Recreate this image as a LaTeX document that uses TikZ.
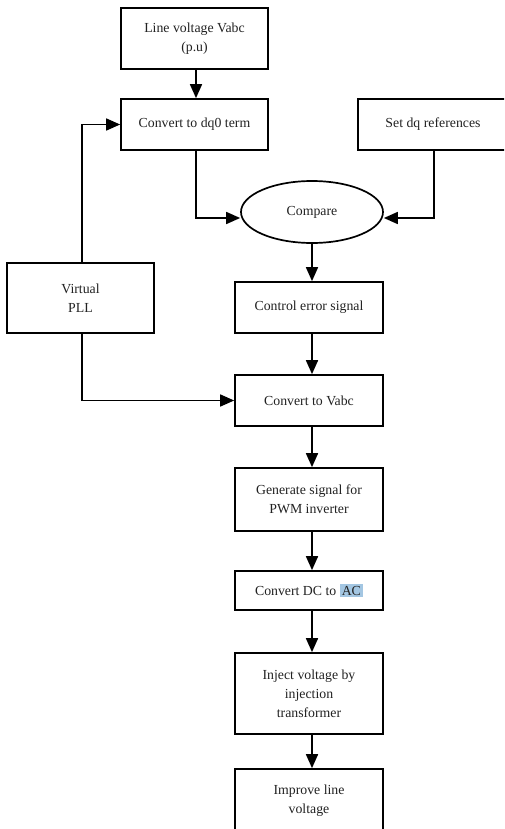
\documentclass[tikz,border=0pt]{standalone}
\usepackage{fontspec}
\setmainfont{Liberation Serif}
\usetikzlibrary{arrows.meta,shapes.geometric}
\definecolor{hl}{HTML}{A3C6E2}
\definecolor{txt}{HTML}{222222}
\begin{document}
\begin{tikzpicture}[x=0.5pt,y=-0.5pt,
  lbl/.style={font=\fontsize{6.9}{9.5}\selectfont, text=txt},
  box/.style={lbl, draw, line width=0.85pt, align=center, inner sep=0pt},
  conn/.style={line width=0.85pt, -{Triangle[length=7pt,width=6pt]}}]
\useasboundingbox (0,0) rectangle (504,829);
\clip (0,0) rectangle (504,829);
\fill[white] (0,0) rectangle (504,829);

\node[box, minimum width=73.5pt, minimum height=30.5pt] (b1) at (194.5,38.5) {Line voltage Vabc\\(p.u)};
\node[box, minimum width=73.5pt, minimum height=25.5pt] (b2) at (194.5,124.5) {Convert to dq0 term};
\node[box, minimum width=75pt, minimum height=25.5pt] (bset) at (433,124.5) {Set dq references};
\node[box, ellipse, minimum width=71pt, minimum height=31pt] (ell) at (312,212) {Compare};
\node[box, minimum width=73.5pt, minimum height=35pt] (pll) at (80.5,298) {Virtual\\PLL};
\node[box, minimum width=74pt, minimum height=25.5pt] (ctrl) at (309,307.5) {Control error signal};
\node[box, minimum width=74pt, minimum height=25.5pt] (vabc) at (309,400.5) {Convert to Vabc};
\node[box, minimum width=74pt, minimum height=31.5pt] (gen) at (309,499.5) {Generate signal for\\PWM inverter};
\node[box, minimum width=74pt, minimum height=19.5pt] (dcac) at (309,590.5) {Convert DC to {\setlength{\fboxsep}{1pt}\colorbox{hl}{AC}}};
\node[box, minimum width=74pt, minimum height=40.5pt] (inj) at (309,693.5) {Inject voltage by\\injection\\transformer};
\node[box, minimum width=74pt, minimum height=32pt] (imp) at (309,801) {Improve line\\voltage};

\draw[conn] ([xshift=0.75pt]b1.south) -- ([xshift=0.75pt]b2.north);
\draw[conn] ([xshift=0.75pt]pll.north) |- (b2.west);
\draw[conn] ([xshift=0.75pt]b2.south) |- ([yshift=-3pt]ell.west);
\draw[conn] ([xshift=0.5pt]bset.south) |- ([yshift=-3pt]ell.east);
\draw[conn] (ell.south) -- ([xshift=1.5pt]ctrl.north);
\draw[conn] ([xshift=1.5pt]ctrl.south) -- ([xshift=1.5pt]vabc.north);
\draw[conn] ([xshift=0.75pt]pll.south) |- (vabc.west);
\draw[conn] ([xshift=1.5pt]vabc.south) -- ([xshift=1.5pt]gen.north);
\draw[conn] ([xshift=1.5pt]gen.south) -- ([xshift=1.5pt]dcac.north);
\draw[conn] ([xshift=1.5pt]dcac.south) -- ([xshift=1.5pt]inj.north);
\draw[conn] ([xshift=1.5pt]inj.south) -- ([xshift=1.5pt]imp.north);
\end{tikzpicture}
\end{document}
